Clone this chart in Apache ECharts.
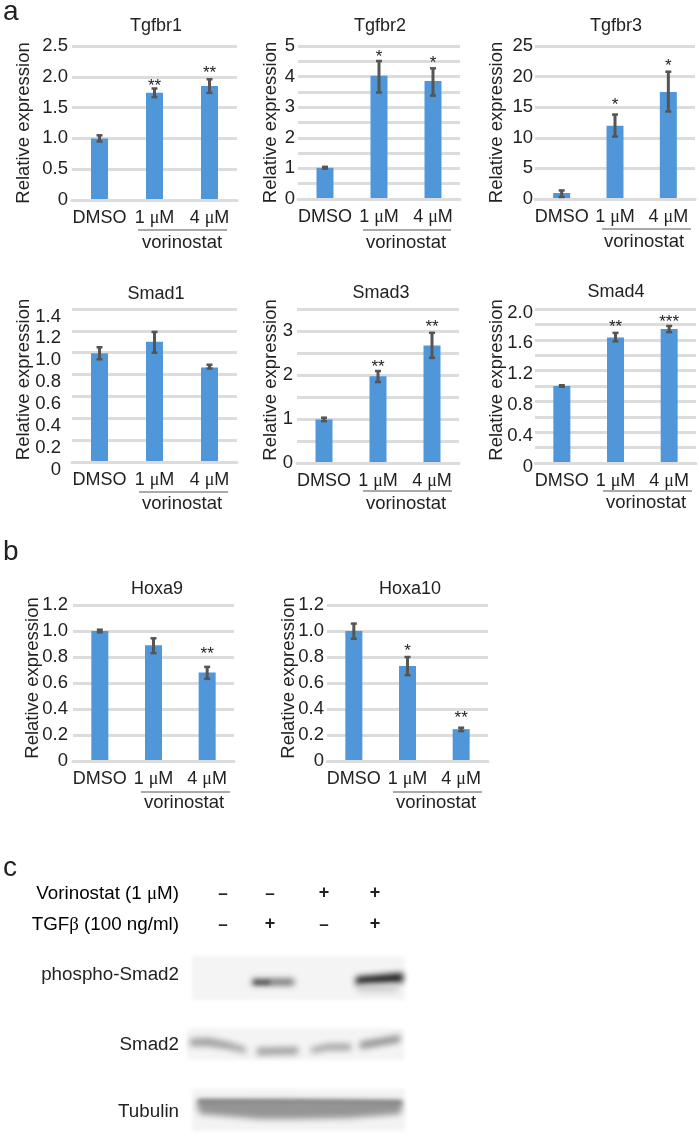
<!DOCTYPE html>
<html><head><meta charset="utf-8">
<style>html,body{margin:0;padding:0;background:#fff}#c{width:699px;height:1136px}</style>
<script src="https://cdn.jsdelivr.net/npm/echarts@6/dist/echarts.min.js"></script>
</head><body><div id="c"></div>
<script>
const categories = ['DMSO', '1 μM', '4 μM'];

const tgfbr1Values = [1.0, 1.74, 1.85];
const tgfbr1Low = [0.95, 1.67, 1.74];
const tgfbr1High = [1.05, 1.81, 1.96];
const tgfbr1Stars = ['', '**', '**'];
const tgfbr1StarAt = [0, 1.905, 2.12];
const tgfbr1Ticks = ['0', '0.5', '1.0', '1.5', '2.0', '2.5'];

const tgfbr2Values = [1.02, 4.03, 3.86];
const tgfbr2Low = [0.99, 3.48, 3.38];
const tgfbr2High = [1.05, 4.51, 4.27];
const tgfbr2Stars = ['', '*', '*'];
const tgfbr2StarAt = [0, 4.76, 4.58];
const tgfbr2Ticks = ['0', '', '1', '', '2', '', '3', '', '4', '', '5'];

const tgfbr3Values = [0.98, 11.96, 17.5];
const tgfbr3Low = [0.33, 10.2, 14.3];
const tgfbr3High = [1.4, 13.8, 20.8];
const tgfbr3Stars = ['', '*', '*'];
const tgfbr3StarAt = [0, 16.0, 22.3];
const tgfbr3Ticks = ['0', '5', '10', '15', '20', '25'];

const smad1Values = [0.995, 1.10, 0.865];
const smad1Low = [0.94, 1.0, 0.855];
const smad1High = [1.05, 1.19, 0.89];
const smad1Stars = ['', '', ''];
const smad1StarAt = [0, 0, 0];
const smad1Ticks = ['0', '0.2', '0.4', '0.6', '0.8', '1.0', '1.2', '1.4'];

const smad3Values = [0.99, 1.97, 2.67];
const smad3Low = [0.95, 1.84, 2.39];
const smad3High = [1.03, 2.09, 2.96];
const smad3Stars = ['', '**', '**'];
const smad3StarAt = [0, 2.27, 3.17];
const smad3Ticks = ['0', '', '1', '', '2', '', '3', ''];

const smad4Values = [1.0, 1.63, 1.74];
const smad4Low = [0.99, 1.58, 1.70];
const smad4High = [1.01, 1.69, 1.78];
const smad4Stars = ['', '**', '***'];
const smad4StarAt = [0, 1.81, 1.88];
const smad4Ticks = ['0', '', '0.4', '', '0.8', '', '1.2', '', '1.6', '', '2.0'];

const hoxa9Values = [1.0, 0.89, 0.68];
const hoxa9Low = [0.99, 0.83, 0.632];
const hoxa9High = [1.01, 0.944, 0.724];
const hoxa9Stars = ['', '', '**'];
const hoxa9StarAt = [0, 0, 0.852];
const hoxa9Ticks = ['0', '0.2', '0.4', '0.6', '0.8', '1.0', '1.2'];

const hoxa10Values = [1.0, 0.73, 0.245];
const hoxa10Low = [0.94, 0.66, 0.23];
const hoxa10High = [1.057, 0.80, 0.256];
const hoxa10Stars = ['', '*', '**'];
const hoxa10StarAt = [0, 0.873, 0.358];
const hoxa10Ticks = ['0', '0.2', '0.4', '0.6', '0.8', '1.0', '1.2'];

const sans = '"Liberation Sans", Arial, sans-serif';
const serif = '"Liberation Serif", serif';
const ink = '#222';
const blue = '#5097d9';
const gridGrey = '#dcdcdc';
const errGrey = '#555';

const panels = [
 {t:'Tgfbr1',v:tgfbr1Values,lo:tgfbr1Low,hi:tgfbr1High,st:tgfbr1Stars,sa:tgfbr1StarAt,ticks:tgfbr1Ticks,max:2.5,step:0.5,l:72,r:237,top:46,bot:200,nameX:23,lm:4,ldy:0,ndy:0,tx:156,ty:24,line:[138,227,230],vx:182,vy:243},
 {t:'Tgfbr2',v:tgfbr2Values,lo:tgfbr2Low,hi:tgfbr2High,st:tgfbr2Stars,sa:tgfbr2StarAt,ticks:tgfbr2Ticks,max:5,step:0.5,l:298,r:460,top:46,bot:199,nameX:270,lm:3,ldy:0,ndy:0,tx:380,ty:24,line:[363,451,230],vx:406,vy:243},
 {t:'Tgfbr3',v:tgfbr3Values,lo:tgfbr3Low,hi:tgfbr3High,st:tgfbr3Stars,sa:tgfbr3StarAt,ticks:tgfbr3Ticks,max:25,step:5,l:535,r:695,top:46,bot:199,nameX:496,lm:2,ldy:0,ndy:0,tx:616,ty:24,line:[602,691,229],vx:644,vy:242},
 {t:'Smad1',v:smad1Values,lo:smad1Low,hi:smad1High,st:smad1Stars,sa:smad1StarAt,ticks:smad1Ticks,max:1.4,step:0.2,l:72,r:237,top:309,bot:462,nameX:23,lm:11,ldy:7.5,ndy:-6,tx:156,ty:292,line:[139,228,492],vx:182,vy:504},
 {t:'Smad3',v:smad3Values,lo:smad3Low,hi:smad3High,st:smad3Stars,sa:smad3StarAt,ticks:smad3Ticks,max:3.5,step:0.5,l:297,r:459,top:309,bot:463,nameX:270,lm:4,ldy:0,ndy:-6,tx:381,ty:291,line:[363,452,491],vx:406,vy:504},
 {t:'Smad4',v:smad4Values,lo:smad4Low,hi:smad4High,st:smad4Stars,sa:smad4StarAt,ticks:smad4Ticks,max:2,step:0.2,l:535,r:696,top:309,bot:463,nameX:496,lm:2,ldy:3.5,ndy:-6,tx:616,ty:290,line:[603,692,491],vx:646,vy:503},
 {t:'Hoxa9',v:hoxa9Values,lo:hoxa9Low,hi:hoxa9High,st:hoxa9Stars,sa:hoxa9StarAt,ticks:hoxa9Ticks,max:1.2,step:0.2,l:73,r:234,top:605,bot:761,nameX:32,lm:5,ldy:0,ndy:-5,tx:157,ty:587,line:[141,230,792],vx:184,vy:803},
 {t:'Hoxa10',v:hoxa10Values,lo:hoxa10Low,hi:hoxa10High,st:hoxa10Stars,sa:hoxa10StarAt,ticks:hoxa10Ticks,max:1.2,step:0.2,l:327,r:488,top:605,bot:761,nameX:288,lm:3,ldy:0,ndy:-5,tx:410,ty:587,line:[393,482,792],vx:436,vy:803}
];

const grid=[],xAxis=[],yAxis=[],series=[],title=[],graphic=[];
function txt(x,y,text,size,align,extra){
  graphic.push(Object.assign({type:'text',silent:true,z:10,style:Object.assign({x,y,text,fill:ink,font:size+'px '+sans,textAlign:align||'center',textVerticalAlign:'middle'},extra||{})}));
}
panels.forEach((p,i)=>{
  grid.push({left:p.l,width:p.r-p.l,top:p.top,height:p.bot-p.top,containLabel:false});
  title.push({text:p.t,left:p.tx,top:p.ty-7,padding:0,textAlign:'center',textStyle:{fontFamily:sans,fontSize:18,fontWeight:'normal',color:ink}});
  xAxis.push({type:'category',gridIndex:i,data:categories,z:3,
    axisTick:{show:false},axisLine:{lineStyle:{color:gridGrey,width:3}},
    axisLabel:{margin:9,interval:0,color:ink,fontFamily:sans,fontSize:18,
      formatter:s=>s.includes('μ')?s.replace(/(.*)μ(.*)/,'{a|$1}{m|μ}{a|$2}'):'{a|'+s+'}',
      rich:{a:{fontFamily:sans,fontSize:18,color:ink},m:{fontFamily:serif,fontSize:18,color:ink}}}});
  const shifted=p.ldy>0?{verticalAlign:'top',lineHeight:2*p.ldy}:{};
  yAxis.push({type:'value',gridIndex:i,min:0,max:p.max,interval:p.step,
    name:'Relative expression',nameLocation:'middle',nameGap:p.l-p.nameX-10,nameRotate:90,nameMoveOverlap:false,
    nameTextStyle:{fontFamily:sans,fontSize:18.5,color:ink,padding:p.ndy?[0,0,0,-2*p.ndy]:0},
    axisLine:{show:false},axisTick:{show:false},
    axisLabel:Object.assign({margin:p.lm,color:ink,fontFamily:sans,fontSize:18.5,showMinLabel:true,showMaxLabel:true,hideOverlap:false,
      formatter:(v,idx)=>p.ticks[Math.round(v/p.step)]},shifted),
    splitLine:{lineStyle:{color:gridGrey,width:3}}});
  series.push({type:'bar',xAxisIndex:i,yAxisIndex:i,data:p.v,barWidth:17,itemStyle:{color:blue},silent:true,z:2});
  series.push({type:'custom',xAxisIndex:i,yAxisIndex:i,silent:true,z:4,clip:false,
    data:p.v.map((_,k)=>[k,p.lo[k],p.hi[k],p.sa[k],p.st[k]]),
    encode:{x:0,y:[1,2]},
    renderItem:(params,api)=>{
      const k=api.value(0);
      const a=api.coord([k,api.value(1)]),b=api.coord([k,api.value(2)]);
      const cap=3;
      const ls={stroke:errGrey,lineWidth:2.5};
      const children=[
        {type:'line',shape:{x1:a[0],y1:a[1],x2:b[0],y2:b[1]},style:{stroke:errGrey,lineWidth:3}},
        {type:'line',shape:{x1:a[0]-cap,y1:a[1],x2:a[0]+cap,y2:a[1]},style:ls},
        {type:'line',shape:{x1:b[0]-cap,y1:b[1],x2:b[0]+cap,y2:b[1]},style:ls}];
      const star=p.st[k];
      if(star){
        const c=api.coord([k,p.sa[k]]);
        children.push({type:'text',style:{x:c[0],y:c[1]+4,text:star,fill:ink,font:'17px '+sans,textAlign:'center',textVerticalAlign:'middle'}});
      }
      return {type:'group',children};
    }});
  graphic.push({type:'line',silent:true,shape:{x1:p.line[0],y1:p.line[2],x2:p.line[1],y2:p.line[2]},style:{stroke:'#555',lineWidth:1}});
  txt(p.vx,p.vy,'vorinostat',18.5);
});

// panel letters
txt(3,12,'a',28,'left'); txt(3,552,'b',28,'left'); txt(3,868,'c',28,'left');

// blot labels
const rich={a:{fontFamily:sans,fontSize:18.8,color:ink},m:{fontFamily:serif,fontSize:18.8,color:ink}};
function richTxt(x,y,text){graphic.push({type:'text',silent:true,z:10,style:{x,y,text,rich,textAlign:'right',textVerticalAlign:'middle'}});}
richTxt(179,894,'{a|Vorinostat (1 }{m|μ}{a|M)}');
richTxt(179,925,'{a|TGF}{m|β}{a| (100 ng/ml)}');
txt(179,975,'phospho-Smad2',18.8,'right');
txt(179,1045,'Smad2',18.8,'right');
txt(179,1112,'Tubulin',18.8,'right');

const laneX=[223,270,324,375];
const vorinostatSigns=['–','–','+','+'];
const tgfSigns=['–','+','–','+'];
function sign(x,y,s){ txt(x,s==='+'?y:y+1,s,s==='+'?18:17,'center',{font:'bold '+(s==='+'?18:17)+'px '+sans}); }
laneX.forEach((x,i)=>{ sign(x,893,vorinostatSigns[i]); sign(x,924,tgfSigns[i]); });

// blots: soft shapes, drawn off-page so only their blurred shadow shows
const OFF=2000;
function blur(points,color,b){
  graphic.push({type:'polygon',silent:true,z:5,shape:{points:points.map(q=>[q[0]-OFF,q[1]])},
    style:{fill:'#000',shadowColor:color,shadowBlur:b,shadowOffsetX:OFF}});
}
function box(x1,y1,x2,y2){return [[x1,y1],[x2,y1],[x2,y2],[x1,y2]];}
blur(box(192,956,405,1000),'#f4f4f4',4);
blur(box(187,1028,404,1060),'#f4f4f4',4);
blur(box(192,1089,405,1131),'#f3f3f3',4);
// phospho-Smad2 bands
blur(box(252,979,294,985),'#666',6);
blur(box(254,981,270,984),'#484848',4);
blur([[356,977],[403,973],[403,982],[356,985]],'#111',6);
blur(box(358,985,398,992),'#ccc',7);
// Smad2 bands
blur([[190,1039],[208,1038],[228,1042],[246,1048],[246,1053],[228,1049],[208,1046],[190,1046]],'#9a9a9a',6);
blur([[257,1048],[298,1047],[298,1054],[257,1055]],'#9a9a9a',6);
blur([[311,1048],[328,1044],[351,1044],[351,1050],[328,1050],[311,1053]],'#9a9a9a',6);
blur([[360,1042],[400,1035],[400,1042],[360,1049]],'#8a8a8a',6);
// Tubulin
blur([[198,1100],[402,1101],[402,1109],[400,1114],[350,1118],[300,1119],[260,1119],[200,1114],[197,1106]],'#959595',6);
blur([[198,1100],[300,1100],[402,1101],[402,1104],[300,1103],[198,1103]],'#6e6e6e',4);

const chart=echarts.init(document.getElementById('c'),null,{renderer:'canvas'});
chart.setOption({animation:false,backgroundColor:'#fff',title,grid,xAxis,yAxis,series,graphic:{elements:graphic}});
</script></body></html>
